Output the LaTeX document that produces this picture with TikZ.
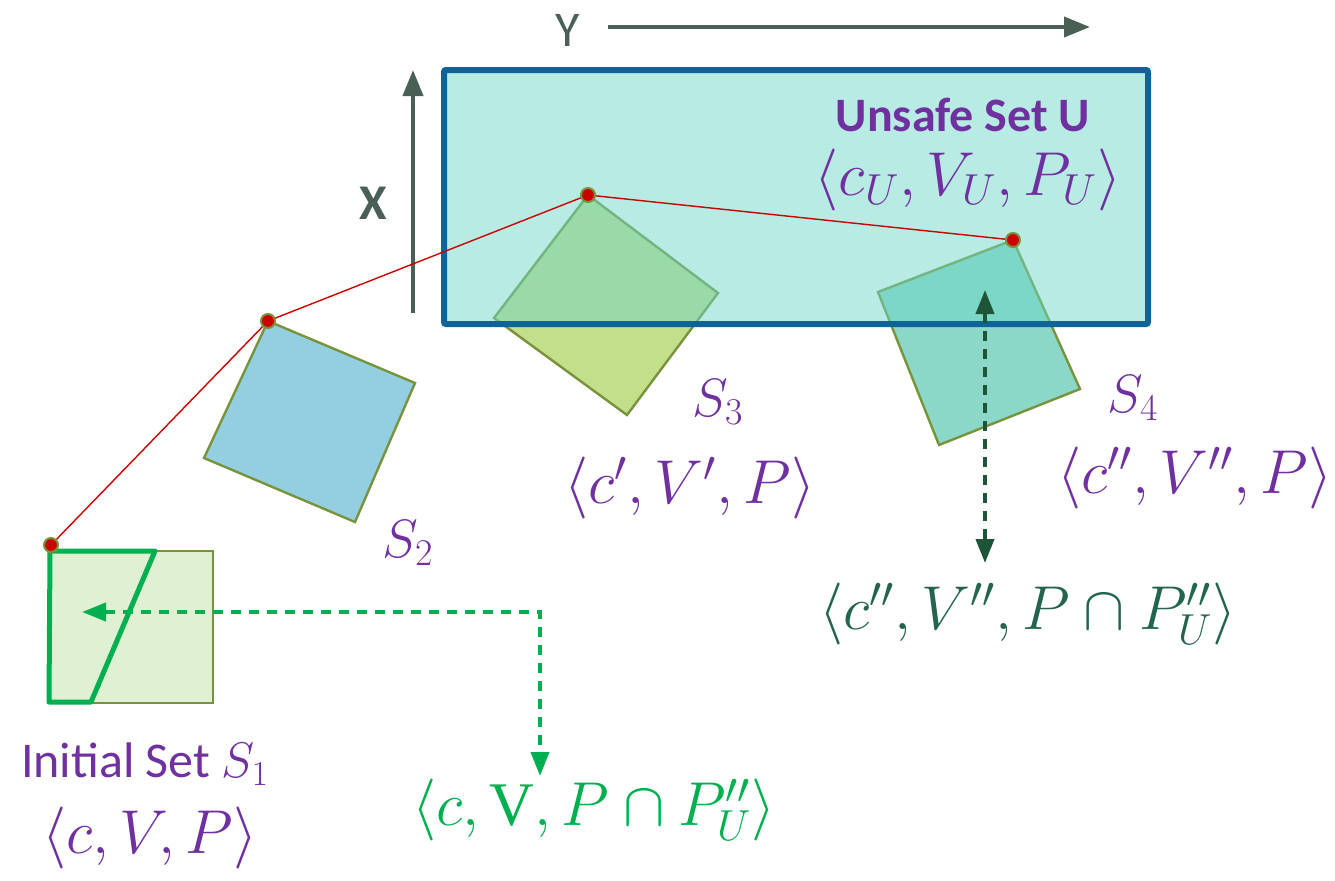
\documentclass[tikz,border=0pt]{standalone}
\usepackage{fix-cm}
\usepackage{fontspec}
\setmainfont{Carlito}
\newfontfamily\uprightserif{Liberation Serif}
\usepackage{tikz}
\usetikzlibrary{arrows.meta,calc}
\definecolor{axiscol}{RGB}{74,96,86}
\definecolor{unsafeedge}{RGB}{14,100,150}
\definecolor{unsafefill}{RGB}{111,215,199}
\definecolor{labcol}{RGB}{112,48,160}
\definecolor{olivecol}{RGB}{119,147,60}
\definecolor{trajcol}{RGB}{204,0,0}
\definecolor{initfill}{RGB}{223,240,211}
\definecolor{sfill}{RGB}{147,207,224}
\definecolor{tfill}{RGB}{196,223,138}
\definecolor{ffill}{RGB}{140,216,200}
\definecolor{brightgreen}{RGB}{0,176,80}
\definecolor{darkgreen}{RGB}{30,84,56}
\definecolor{tealtext}{RGB}{34,100,80}

\begin{document}
\begin{tikzpicture}[
  x=0.5pt, y=-0.5pt,
  lbl/.style={text=labcol, inner sep=0pt, font=\fontsize{25}{28}\selectfont},
  mathlbl/.style={text=labcol, inner sep=0pt, font=\fontsize{31}{35}\selectfont},
  setlbl/.style={text=labcol, inner sep=0pt, font=\fontsize{27}{30}\selectfont},
  axis/.style={draw=axiscol, line width=2pt, -{Triangle[length=13pt,width=10pt]}},
  setpoly/.style={draw=olivecol, line width=1.2pt},
  dot/.style={circle, fill=trajcol, draw=olivecol, line width=1pt, inner sep=0pt, minimum size=7pt},
  probe/.style={dashed, dash pattern=on 5pt off 4pt, line width=2pt,
                {Triangle[length=12pt,width=9pt]}-{Triangle[length=12pt,width=9pt]}},
]
\useasboundingbox (0,0) rectangle (1335,880);

% ---------- axes ----------
\node[text=axiscol, inner sep=0pt, font=\fontsize{25}{28}\selectfont] (ylbl) at (568,30) {Y};
\coordinate (y0) at (608,27);
\coordinate (y1) at (1090,27);
\draw[axis] (y0) -- (y1);
\node[text=axiscol, inner sep=0pt, font=\fontsize{25}{28}\selectfont\bfseries] (xlbl) at (373,203) {X};
\coordinate (x0) at (413,313);
\coordinate (x1) at (413,70);
\draw[axis] (x0) -- (x1);

% ---------- reach sets ----------
\coordinate (p1) at (51,545);
\coordinate (p2) at (268,321);
\coordinate (p3) at (588,195);
\coordinate (p4) at (1013,240);

\draw[setpoly, fill=initfill] (50,551) rectangle (213,703);
\draw[brightgreen, line width=2.5pt, line join=round] (50,551) -- (155,551) -- (91,702) -- (49,702) -- cycle;
\draw[setpoly, fill=sfill] (p2) -- (415,383) -- (355,522) -- (204,458) -- cycle;
\draw[setpoly, fill=tfill] (p3) -- (718,293) -- (627,415) -- (494,318) -- cycle;
\draw[setpoly, fill=ffill] (p4) -- (1080,389) -- (939,445) -- (878,292) -- cycle;

% ---------- unsafe set ----------
\fill[unsafefill, fill opacity=0.5] (444,70) rectangle (1148,324);
\draw[unsafeedge, line width=3pt, rounded corners=1pt] (444,70) rectangle (1148,324);
\node[lbl, font=\fontsize{24}{27}\selectfont\bfseries] (ulbl) at (963,115) {Unsafe Set U};
\node[mathlbl] (umath) at (968,180) {$\langle c_U, V_U, P_U\rangle$};

% ---------- trajectory ----------
\draw[trajcol, line width=0.7pt] (p1) -- (p2) -- (p3) -- (p4);
\foreach \p in {p1,p2,p3,p4} \node[dot] at (\p) {};

% ---------- labels ----------
\node[lbl] (s1lbl) at (145,764) {Initial Set $S_1$};
\node[mathlbl] (s1math) at (150,838) {$\langle c, V, P\rangle$};
\node[setlbl] (s2lbl) at (408,543) {$S_2$};
\node[setlbl] (s3lbl) at (718,402) {$S_3$};
\node[mathlbl] (s3math) at (690,488) {$\langle c', V', P\rangle$};
\node[setlbl] (s4lbl) at (1133,398) {$S_4$};
\node[mathlbl] (s4math) at (1195,478) {$\langle c'', V'', P\rangle$};

% ---------- probes ----------
\node[mathlbl, text=brightgreen] (s1cut) at (594,810) {$\langle c, \mbox{\uprightserif V}, P\cap P''_U\rangle$};
\coordinate (g0) at (82,612);
\coordinate (g1) at (540,612);
\coordinate (g2) at (540,776);
\draw[probe, brightgreen] (g0) -- (g1) -- (g2);

\node[mathlbl, text=tealtext] (s4cut) at (1028,614) {$\langle c'', V'', P\cap P''_U\rangle$};
\coordinate (d0) at (985,290);
\coordinate (d1) at (985,563);
\draw[probe, darkgreen] (d0) -- (d1);

\end{tikzpicture}
\end{document}
